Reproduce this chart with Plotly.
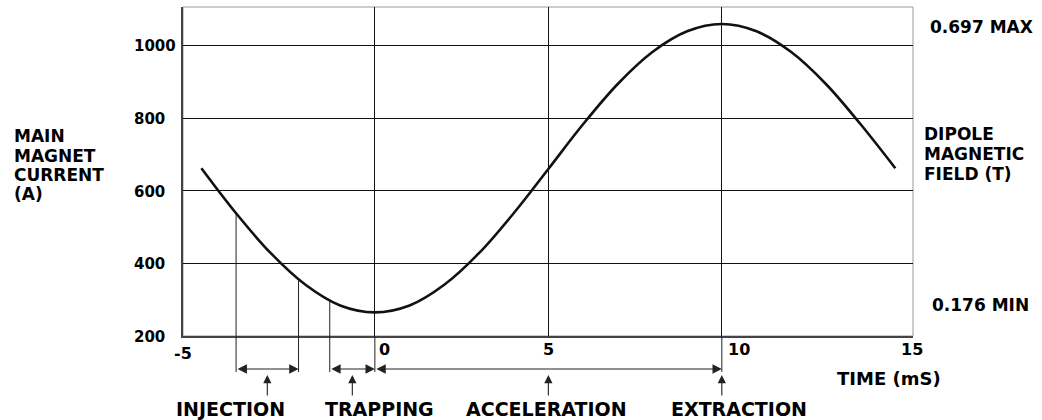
import plotly.graph_objects as go

# ---------------- data ----------------
time_ms = [-5, -4, -3, -2, -1, 0, 1, 2, 3, 4, 5, 6, 7, 8, 9, 10, 11, 12, 13, 14, 15]
current_a = [662, 538, 428, 341, 284, 265, 284, 341, 428, 538, 660,
             783, 894, 982, 1039, 1059, 1039, 982, 894, 783, 662]

x_ticks = [-5, 0, 5, 10, 15]
x_tick_text = ["-5", "0", "5", "10", "15"]
y_ticks = [200, 400, 600, 800, 1000]
y_tick_text = ["200", "400", "600", "800", "1000"]
x_grid = [0, 5, 10]
y_grid = [400, 600, 800, 1000]

# phase boundary markers (time, current at curve)
marker_times = [-4, -2.2, -1.3]
marker_currents = [538, 355, 300]
gridline_extend_times = [0, 10]

# phases
phase_names = ["INJECTION", "TRAPPING", "ACCELERATION", "EXTRACTION"]
phase_start = [-4, -1.3, 0, None]
phase_end = [-2.2, 0, 10, None]
phase_arrow_x = [-3.1, -0.65, 5, 10]
phase_label_x = [-4.15, 0.14, 4.96, 10.49]

left_title_lines = ["MAIN", "MAGNET", "CURRENT", "(A)"]
right_title_lines = ["DIPOLE", "MAGNETIC", "FIELD (T)"]
field_max_label = "0.697 MAX"
field_min_label = "0.176 MIN"
field_max_current = 1059
field_min_current = 265
x_title = "TIME (mS)"

X_RANGE = [-5.53, 15.51]
Y_RANGE = [200, 1106]

FONT = "DejaVu Sans"
PLOT_TOP, PLOT_H = 7, 329   # pixel geometry of plot area (for label placement)


def ypaper(v):
    return (v - Y_RANGE[0]) / (Y_RANGE[1] - Y_RANGE[0])


def ypx(px):
    return (PLOT_TOP + PLOT_H - px) / PLOT_H


def f(size):
    return dict(family=FONT, size=size, color="black", weight=700)


fig = go.Figure()
fig.add_trace(go.Scatter(
    x=time_ms, y=current_a, mode="lines",
    line=dict(color="#111111", width=2.6, shape="spline"),
    hoverinfo="skip", showlegend=False,
))

shapes = []
shapes.append(dict(type="rect", xref="paper", yref="paper", x0=0, x1=1, y0=0, y1=1,
                   line=dict(color="#9a9a9a", width=1), layer="below"))
BELOW = ypx(372)
for t, v in zip(marker_times, marker_currents):
    shapes.append(dict(type="line", xref="x", yref="paper", x0=t, x1=t,
                       y0=ypaper(v), y1=BELOW, line=dict(color="#222222", width=1)))
for t in gridline_extend_times:
    shapes.append(dict(type="line", xref="x", yref="paper", x0=t, x1=t,
                       y0=0, y1=BELOW, line=dict(color="#222222", width=1)))

annotations = []
# x tick labels
x_anchor = ["center", "left", "center", "left", "center"]
x_shift = [-18, 2, 0, 4, 17]
x_ypx = [353, 349, 349, 349, 349]
for v, txt, an, sh, yp in zip(x_ticks, x_tick_text, x_anchor, x_shift, x_ypx):
    annotations.append(dict(x=v, y=ypx(yp), xref="x", yref="paper", text=txt, showarrow=False,
                            xanchor=an, yanchor="middle", xshift=sh, font=f(16)))
# y tick labels (left aligned)
for v, txt in zip(y_ticks, y_tick_text):
    annotations.append(dict(x=-0.0699, y=v, xref="paper", yref="y", text=txt, showarrow=False,
                            xanchor="left", yanchor="middle", yshift=-1, font=f(15)))
# left title, one line each
for i, line in enumerate(left_title_lines):
    annotations.append(dict(x=-0.234, y=ypx(136 + 19.5 * i), xref="paper", yref="paper",
                            text=line, showarrow=False, xanchor="left", yanchor="middle",
                            font=f(17)))
for i, line in enumerate(right_title_lines):
    annotations.append(dict(x=1.0123, y=ypx(134 + 20 * i), xref="paper", yref="paper",
                            text=line, showarrow=False, xanchor="left", yanchor="middle",
                            font=f(17)))
annotations.append(dict(x=1.0205, y=field_max_current, xref="paper", yref="y",
                        text=field_max_label, showarrow=False, xanchor="left", yanchor="middle",
                        yshift=-3, font=f(17)))
annotations.append(dict(x=1.0233, y=field_min_current, xref="paper", yref="y",
                        text=field_min_label, showarrow=False, xanchor="left", yanchor="middle",
                        yshift=7, font=f(17)))
annotations.append(dict(x=0.893, y=ypx(378), xref="paper", yref="paper",
                        text=x_title, showarrow=False, xanchor="left", yanchor="middle",
                        font=f(18)))

# phase arrows and labels
ARROW_Y = ypx(369)
TIP_Y = ypx(375)
for name, s, e, ax_, lx in zip(phase_names, phase_start, phase_end, phase_arrow_x, phase_label_x):
    if s is not None:
        annotations.append(dict(x=e, y=ARROW_Y, xref="x", yref="paper", ax=s, ay=0,
                                axref="x", ayref="pixel", text="", showarrow=True,
                                arrowhead=2, startarrowhead=2, arrowside="end+start",
                                arrowsize=1.7, startarrowsize=1.7, arrowwidth=1.1,
                                arrowcolor="#222222", standoff=0, startstandoff=0))
    annotations.append(dict(x=ax_, y=TIP_Y, xref="x", yref="paper", ax=0, ay=22,
                            text="", showarrow=True, arrowhead=2, arrowsize=1.5,
                            arrowwidth=1.1, arrowcolor="#222222", standoff=0))
    annotations.append(dict(x=lx, y=ypx(409), xref="x", yref="paper", text=name,
                            showarrow=False, xanchor="center", yanchor="middle", font=f(19)))

fig.update_layout(
    width=1042, height=420,
    margin=dict(l=183, r=129, t=7, b=84, autoexpand=False),
    paper_bgcolor="white", plot_bgcolor="white",
    showlegend=False,
    shapes=shapes, annotations=annotations,
    xaxis=dict(range=X_RANGE, tickvals=x_grid, showticklabels=False, ticks="",
               showgrid=True, gridcolor="#111111", gridwidth=1, zeroline=False,
               showline=True, linecolor="#444444", linewidth=1.5, fixedrange=True),
    yaxis=dict(range=Y_RANGE, tickvals=y_grid, showticklabels=False, ticks="",
               showgrid=True, gridcolor="#111111", gridwidth=1, zeroline=False,
               showline=True, linecolor="#444444", linewidth=1.5, fixedrange=True),
)

fig.write_html("out.html", config={"displayModeBar": False},
               post_script="document.body.style.margin='0';document.body.style.overflow='hidden';")
